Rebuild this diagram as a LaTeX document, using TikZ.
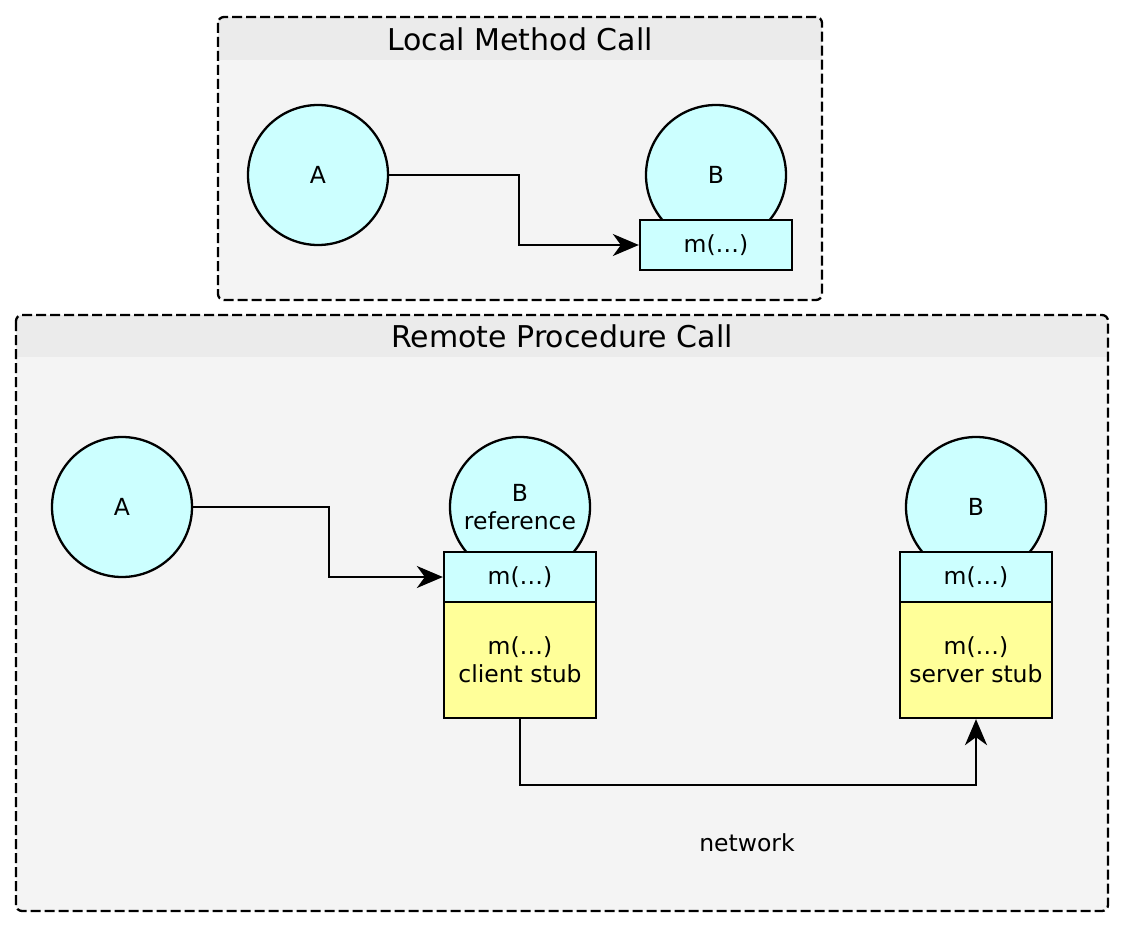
\documentclass[tikz,border=0pt]{standalone}
\usepackage{fontspec}
\setmainfont{DejaVu Sans}
\usetikzlibrary{arrows.meta,calc}
\definecolor{objfill}{HTML}{CCFFFF}
\definecolor{stubfill}{HTML}{FFFF99}
\definecolor{pkgfill}{HTML}{F4F4F4}
\definecolor{hdrfill}{HTML}{EBEBEB}
\tikzset{
  obj/.style={circle, draw=black, line width=2.3pt, fill=objfill, minimum size=140pt, inner sep=0pt, align=center, font=\fontsize{23.5}{28}\selectfont},
  meth/.style={rectangle, draw=black, line width=2.3pt, fill=objfill, minimum width=152pt, minimum height=50pt, inner sep=0pt, font=\fontsize{23.5}{28}\selectfont},
  stub/.style={rectangle, draw=black, line width=2.3pt, fill=stubfill, minimum width=152pt, minimum height=116pt, inner sep=0pt, align=center, font=\fontsize{23.5}{28}\selectfont},
  arr/.style={line width=2.3pt, -{Stealth[length=26pt,width=22pt,inset=8pt]}},
  frameline/.style={draw=black, line width=2.3pt, dash pattern=on 10pt off 4pt, rounded corners=6pt},
  ttl/.style={font=\fontsize{30}{35}\selectfont, inner sep=0pt},
  lbl/.style={font=\fontsize{23.5}{28}\selectfont, inner sep=0pt}
}
\begin{document}
\begin{tikzpicture}[x=1pt,y=-1pt]
\useasboundingbox (0,0) rectangle (1124,928);
\fill[white] (0,0) rectangle (1124,928);
% Local frame
\fill[pkgfill, rounded corners=6pt] (218,17) rectangle (822,300);
\begin{scope}
\clip[rounded corners=6pt] (218,17) rectangle (822,300);
\fill[hdrfill] (218,17) rectangle (822,60);
\end{scope}
\draw[frameline] (218,17) rectangle (822,300);
\node[ttl] (ltitle) at (520,39) {Local Method Call};
% Remote frame
\fill[pkgfill, rounded corners=6pt] (16,315) rectangle (1108,911);
\begin{scope}
\clip[rounded corners=6pt] (16,315) rectangle (1108,911);
\fill[hdrfill] (16,315) rectangle (1108,357);
\end{scope}
\draw[frameline] (16,315) rectangle (1108,911);
\node[ttl] (rtitle) at (562,336) {Remote Procedure Call};
% Local nodes
\node[obj] (lA) at (318,175) {A};
\node[obj] (lB) at (716,175) {B};
\node[meth] (lm) at (716,245) {m(…)};
\draw[arr] (lA.east) -- ++(130,0) |- (lm.west);
% Remote nodes
\node[obj] (rA) at (122,507) {A};
\node[obj] (rB) at (520,507) {B\\reference};
\node[meth] (rm) at (520,577) {m(…)};
\node[stub] (cs) at (520,660) {m(…)\\client stub};
\node[obj] (sB) at (976,507) {B};
\node[meth] (sm) at (976,577) {m(…)};
\node[stub] (ss) at (976,660) {m(…)\\server stub};
\draw[arr] (rA.east) -- ++(136,0) |- (rm.west);
\draw[arr] (cs.south) -- ++(0,66) -| (ss.south);
\node[lbl] (net) at (747,843) {network};
\end{tikzpicture}
\end{document}
